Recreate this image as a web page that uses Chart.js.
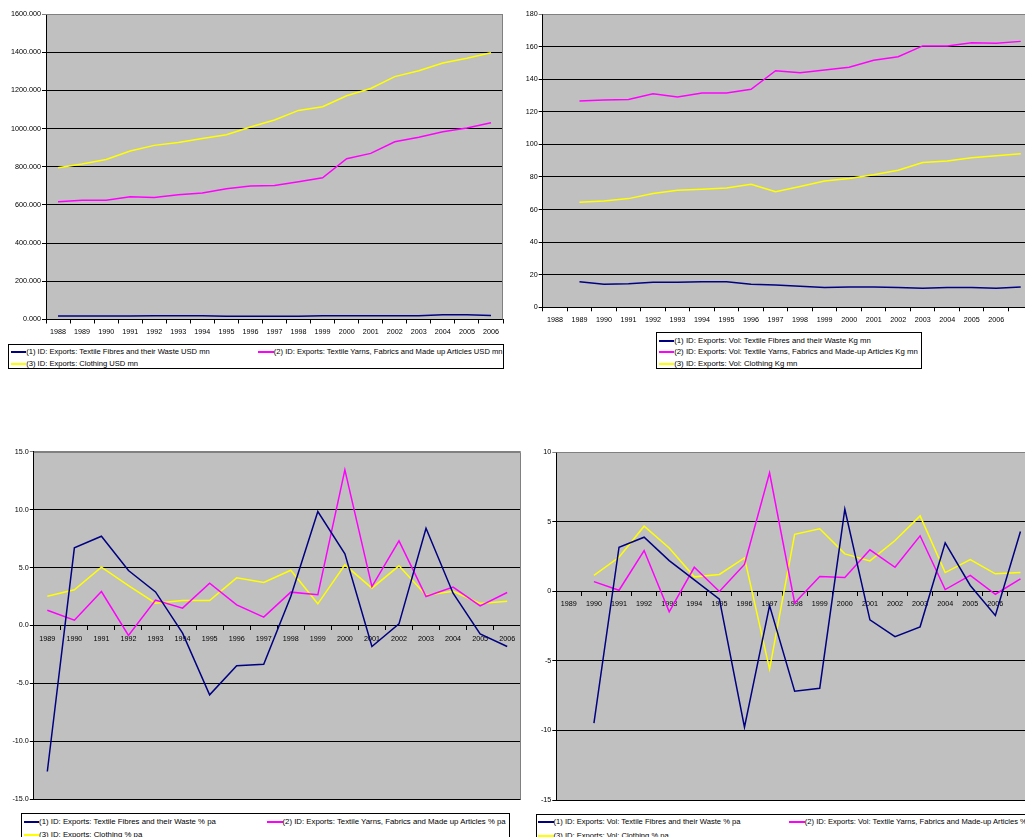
<!DOCTYPE html>
<html>
<head>
<meta charset="utf-8">
<script src="https://cdn.jsdelivr.net/npm/chart.js@4.4.1/dist/chart.umd.min.js"></script>
<style>
  html, body { margin: 0; padding: 0; background: #fff; overflow: hidden; width: 1025px; height: 837px; }
  canvas { position: absolute; }
  .legend { position: absolute; border: 1px solid #000; background: #fff; box-sizing: border-box;
            font-family: "Liberation Sans", Arial, sans-serif; font-size: 7.6px; color: #000; overflow: hidden; }
  .legend.big { font-size: 7.8px; }
  .item { position: absolute; white-space: nowrap; height: 10px; line-height: 10px; display: flex; align-items: center; }
  .item .key { display: inline-block; width: 15.5px; height: 2px; flex: none; }
</style>
</head>
<body>
<canvas id="c1" width="512" height="340" style="left:0;top:0"></canvas>
<canvas id="c2" width="530" height="330" style="left:512px;top:0"></canvas>
<canvas id="c3" width="530" height="370" style="left:0;top:440px"></canvas>
<canvas id="c4" width="518" height="370" style="left:524px;top:440px"></canvas>

<div class="legend" style="left:8px;top:344px;width:496px;height:25px">
  <div class="item" style="left:1.7px;top:1.5px"><span class="key" style="background:#000080"></span>(1) ID: Exports: Textile Fibres and their Waste USD mn</div>
  <div class="item" style="left:249.3px;top:1.5px"><span class="key" style="background:#FF00FF"></span>(2) ID: Exports: Textile Yarns, Fabrics and Made up Articles USD mn</div>
  <div class="item" style="left:1.7px;top:13.5px"><span class="key" style="background:#FFFF00"></span>(3) ID: Exports: Clothing USD mn</div>
</div>
<div class="legend big" style="left:656px;top:332px;width:266px;height:37px">
  <div class="item" style="left:1.7px;top:2.5px"><span class="key" style="background:#000080"></span>(1) ID: Exports: Vol: Textile Fibres and their Waste Kg mn</div>
  <div class="item" style="left:1.7px;top:14px"><span class="key" style="background:#FF00FF"></span>(2) ID: Exports: Vol: Textile Yarns, Fabrics and Made-up Articles Kg mn</div>
  <div class="item" style="left:1.7px;top:25.5px"><span class="key" style="background:#FFFF00"></span>(3) ID: Exports: Vol: Clothing Kg mn</div>
</div>
<div class="legend big" style="left:21px;top:813px;width:489px;height:40px">
  <div class="item" style="left:1.6px;top:2.5px"><span class="key" style="background:#000080"></span>(1) ID: Exports: Textile Fibres and their Waste % pa</div>
  <div class="item" style="left:245px;top:2.5px"><span class="key" style="background:#FF00FF"></span>(2) ID: Exports: Textile Yarns, Fabrics and Made up Articles % pa</div>
  <div class="item" style="left:1.6px;top:16px"><span class="key" style="background:#FFFF00"></span>(3) ID: Exports: Clothing % pa</div>
</div>
<div class="legend" style="left:536px;top:814px;width:520px;height:40px">
  <div class="item" style="left:1px;top:2px"><span class="key" style="background:#000080"></span>(1) ID: Exports: Vol: Textile Fibres and their Waste % pa</div>
  <div class="item" style="left:252.3px;top:2px"><span class="key" style="background:#FF00FF"></span>(2) ID: Exports: Vol: Textile Yarns, Fabrics and Made-up Articles % pa</div>
  <div class="item" style="left:1px;top:15.5px"><span class="key" style="background:#FFFF00"></span>(3) ID: Exports: Vol: Clothing % pa</div>
</div>

<script>
// Category labels
const yearsUsd = ['1988','1989','1990','1991','1992','1993','1994','1995','1996','1997','1998','1999','2000','2001','2002','2003','2004','2005','2006'];
const yearsKg = ['1988','1989','1990','1991','1992','1993','1994','1995','1996','1997','1998','1999','2000','2001','2002','2003','2004','2005','2006',''];
const yearsPctUsd = ['1989','1990','1991','1992','1993','1994','1995','1996','1997','1998','1999','2000','2001','2002','2003','2004','2005','2006'];
const yearsPctKg = ['1989','1990','1991','1992','1993','1994','1995','1996','1997','1998','1999','2000','2001','2002','2003','2004','2005','2006',''];

// Exports, USD mn
const usdFibres = [18,18,18,18,20,20,20,17,17,17,17,20,20,20,20,20,25,25,21];
const usdYarns = [617,624,625,643,639,653,662,685,699,702,721,742,842,870,931,955,983,1003,1031];
const usdClothing = [795,814,838,882,912,927,948,968,1008,1045,1095,1114,1172,1210,1272,1303,1343,1368,1397];

// Export volumes, Kg mn
const kgFibres = [null,15.7,14.1,14.5,15.3,15.3,15.7,15.7,14.1,13.7,12.9,12.1,12.5,12.5,12.1,11.7,12.1,12.1,11.7,12.5];
const kgYarns = [null,126.6,127.2,127.6,131.1,129.1,131.5,131.5,133.8,145.2,144.0,145.6,147.3,151.6,153.8,160.4,160.4,162.4,162.0,163.2];
const kgClothing = [null,64.4,65.2,66.7,69.9,71.8,72.4,73.2,75.5,71.0,74.2,77.5,79.1,81.4,84.1,88.8,89.8,91.8,93.0,94.3];

// Growth of exports, % pa
const pctUsdFibres = [-12.6,6.7,7.7,4.75,2.9,-0.66,-5.98,-3.48,-3.34,2.5,9.84,6.18,-1.81,0.14,8.4,2.79,-0.72,-1.81];
const pctUsdYarns = [1.32,0.46,2.93,-0.86,2.19,1.5,3.65,1.78,0.72,2.88,2.65,13.43,3.36,7.3,2.5,3.31,1.7,2.85];
const pctUsdClothing = [2.53,3.08,5.03,3.45,1.93,2.16,2.16,4.11,3.71,4.77,1.87,5.23,3.22,5.15,2.62,2.96,1.9,2.1];

// Growth of export volumes, % pa
const pctKgFibres = [null,-9.48,3.16,3.88,2.2,0.81,-0.57,-9.77,-1.03,-7.18,-6.97,5.89,-2.06,-3.26,-2.56,3.47,0.41,-1.75,4.29];
const pctKgYarns = [null,0.69,0.07,2.92,-1.48,1.72,-0.02,1.92,8.5,-0.84,1.05,0.98,2.97,1.72,3.98,0.12,1.13,-0.22,0.89];
const pctKgClothing = [null,1.13,2.44,4.67,3.11,1.03,1.2,2.39,-5.6,4.09,4.48,2.68,2.18,3.64,5.41,1.34,2.27,1.25,1.34];

const NAVY = '#000080', PINK = '#FF00FF', YELLOW = '#FFFF00';
const FONT = { family: '"Liberation Sans", Arial, sans-serif', size: 7.2 };

// Grey plot area with a grey frame on the top and right edges
const plotFrame = {
  id: 'plotFrame',
  beforeDraw(chart) {
    const { ctx, chartArea: a } = chart;
    ctx.save();
    ctx.fillStyle = '#C0C0C0';
    ctx.fillRect(a.left, a.top, a.right - a.left, a.bottom - a.top);
    ctx.restore();
  },
  afterDraw(chart) {
    const { ctx, chartArea: a } = chart;
    ctx.save();
    ctx.strokeStyle = '#808080';
    ctx.lineWidth = 1;
    ctx.beginPath();
    ctx.moveTo(a.left, Math.round(a.top) + 0.5);
    ctx.lineTo(Math.round(a.right) - 0.5, Math.round(a.top) + 0.5);
    ctx.lineTo(Math.round(a.right) - 0.5, a.bottom);
    ctx.stroke();
    ctx.restore();
  }
};

function series(label, data, color) {
  return { label, data, borderColor: color, backgroundColor: color, borderWidth: 1.5,
           pointRadius: 0, tension: 0, spanGaps: false };
}

function makeChart(id, cfg) {
  const xScale = {
    type: 'category',
    offset: true,
    grid: { offset: true, drawOnChartArea: false, color: '#000', tickLength: 4 },
    border: { color: '#000', width: 1 },
    ticks: { font: FONT, color: '#000', autoSkip: false, maxRotation: 0, padding: cfg.xPad },
  };
  if (cfg.xAtZero) {
    xScale.position = { y: 0 };
  } else {
    xScale.afterFit = s => { s.height = cfg.xHeight; };
  }
  return new Chart(document.getElementById(id), {
    type: 'line',
    data: { labels: cfg.labels, datasets: cfg.datasets },
    options: {
      responsive: false,
      animation: false,
      layout: { padding: cfg.padding },
      plugins: { legend: { display: false }, tooltip: { enabled: false } },
      scales: {
        x: xScale,
        y: {
          min: cfg.min, max: cfg.max,
          afterFit: s => { s.width = cfg.yWidth; },
          grid: {
            color: c => (c.tick && c.tick.value === cfg.max) ? '#808080' : '#000',
            lineWidth: 1, tickLength: 4
          },
          border: { color: '#000', width: 1 },
          ticks: { stepSize: cfg.step, font: FONT, color: '#000', padding: 1, callback: cfg.fmt }
        }
      }
    },
    plugins: [plotFrame]
  });
}

makeChart('c1', {
  labels: yearsUsd,
  datasets: [
    series('(1) ID: Exports: Textile Fibres and their Waste USD mn', usdFibres, NAVY),
    series('(2) ID: Exports: Textile Yarns, Fabrics and Made up Articles USD mn', usdYarns, PINK),
    series('(3) ID: Exports: Clothing USD mn', usdClothing, YELLOW)
  ],
  min: 0, max: 1600, step: 200, fmt: v => Number(v).toFixed(3),
  yWidth: 46, xHeight: 20.5, xPad: 4,
  padding: { top: 14, right: 9, bottom: 0, left: 0 }
});

makeChart('c2', {
  labels: yearsKg,
  datasets: [
    series('(1) ID: Exports: Vol: Textile Fibres and their Waste Kg mn', kgFibres, NAVY),
    series('(2) ID: Exports: Vol: Textile Yarns, Fabrics and Made-up Articles Kg mn', kgYarns, PINK),
    series('(3) ID: Exports: Vol: Clothing Kg mn', kgClothing, YELLOW)
  ],
  min: 0, max: 180, step: 20, fmt: v => String(v),
  yWidth: 30.7, xHeight: 22.7, xPad: 4,
  padding: { top: 14, right: 9, bottom: 0, left: 0 }
});

makeChart('c3', {
  labels: yearsPctUsd,
  datasets: [
    series('(1) ID: Exports: Textile Fibres and their Waste % pa', pctUsdFibres, NAVY),
    series('(2) ID: Exports: Textile Yarns, Fabrics and Made up Articles % pa', pctUsdYarns, PINK),
    series('(3) ID: Exports: Clothing % pa', pctUsdClothing, YELLOW)
  ],
  min: -15, max: 15, step: 5, fmt: v => Number(v).toFixed(1),
  yWidth: 33.8, xAtZero: true, xPad: 5,
  padding: { top: 11.7, right: 9.3, bottom: 10.7, left: 0 }
});

makeChart('c4', {
  labels: yearsPctKg,
  datasets: [
    series('(1) ID: Exports: Vol: Textile Fibres and their Waste % pa', pctKgFibres, NAVY),
    series('(2) ID: Exports: Vol: Textile Yarns, Fabrics and Made-up Articles % pa', pctKgYarns, PINK),
    series('(3) ID: Exports: Vol: Clothing % pa', pctKgClothing, YELLOW)
  ],
  min: -15, max: 10, step: 5, fmt: v => String(v),
  yWidth: 32.3, xAtZero: true, xPad: 5,
  padding: { top: 12, right: 9, bottom: 10, left: 0 }
});
</script>
</body>
</html>
